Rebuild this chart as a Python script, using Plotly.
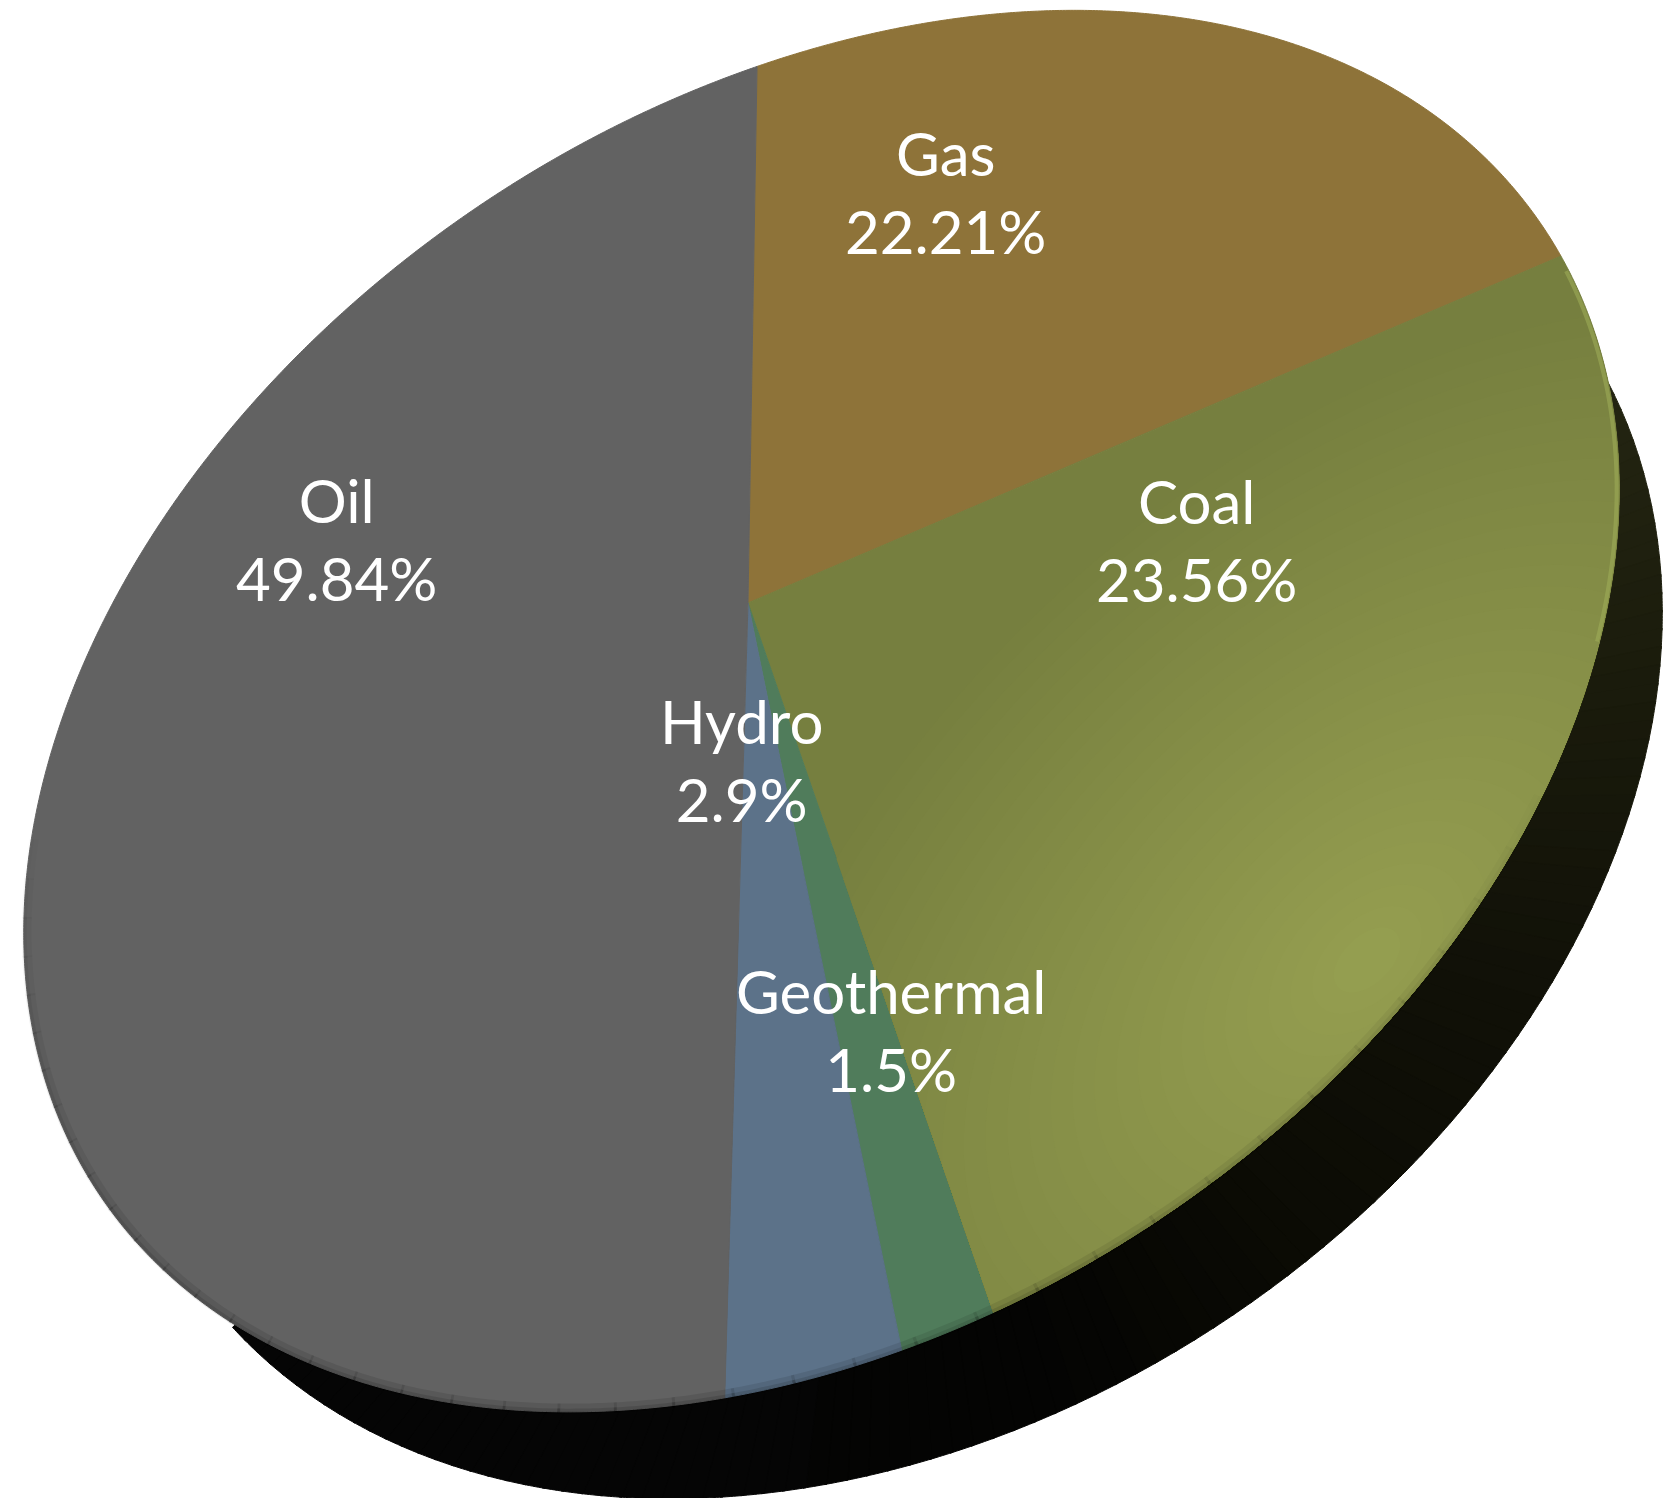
import numpy as np
import plotly.graph_objects as go

# ---- data ----
labels = ["Gas", "Coal", "Geothermal", "Hydro", "Oil"]
shares = [22.21, 23.56, 1.5, 2.9, 49.84]
colors = ["#8e7339", "#767f3f", "#507c5b", "#5c7289", "#626262"]

# ---- label placement (pixels on the canvas) ----
label_x = [945, 1196, 891, 741, 336]
label_y = [192, 540, 1030, 760, 539]

# ---- calibration of the perspective view of the disc ----
W_PX, H_PX = 1671, 1498
RIM_SAMPLES = [(40, 800), (100, 633), (200, 467), (357, 300), (600, 133), (757, 66), (1100, 10),
               (1477, 150), (1563, 263), (1613, 417), (1560, 750), (1483, 907), (1433, 967),
               (1317, 1100), (1150, 1222), (1100, 1260), (998, 1307), (908, 1345), (733, 1395),
               (600, 1412), (500, 1408), (433, 1400), (333, 1373), (233, 1327), (133, 1237),
               (67, 1143), (28, 1000), (24, 932)]
SIDE_SAMPLES = [(233, 1330), (333, 1407), (417, 1453), (500, 1480), (723, 1497), (900, 1467),
                (1100, 1393), (1322, 1250), (1483, 1083), (1567, 950), (1643, 750), (1668, 664),
                (1632, 450), (1607, 377)]
APEX = (748.0, 603.0)
START = (757.0, 66.0)


def fit_ellipse(samples):
    p = np.array(samples, float)
    m = p.mean(0)
    s = 800.0
    x, y = (p[:, 0] - m[0]) / s, (p[:, 1] - m[1]) / s
    D = np.c_[x * x, x * y, y * y, x, y]
    a, b, c, d, e = np.linalg.lstsq(D, np.ones(len(x)), rcond=None)[0]
    M = np.array([[a, b / 2], [b / 2, c]])
    cen = np.linalg.solve(2 * M, -np.array([d, e]))
    k = 1 + cen @ M @ cen
    Q = M / k
    cov = np.linalg.inv(Q) * s * s
    return np.linalg.cholesky(cov), cen * s + m


A, C = fit_ellipse(RIM_SAMPLES)
Ainv = np.linalg.inv(A)


def to_disc(p):
    u = Ainv @ (np.array(p) - C)
    return complex(u[0], u[1])


def to_img(z):
    z = np.atleast_1d(z)
    pts = A @ np.vstack([z.real, z.imag])
    return pts[0] + C[0], pts[1] + C[1]


q = to_disc(APEX)
# perspective: the hub is seen off-centre, so rim angles go through a disc automorphism
w = q * (1 - np.sqrt(1 - abs(q) ** 2)) / abs(q) ** 2
t0 = to_disc(START)
t0 = t0 / abs(t0)
z0 = (t0 - w) / (1 - np.conj(w) * t0)
phi = np.angle(z0)


def rim_point(frac, inset=1.0):
    z = np.exp(1j * (2 * np.pi * np.asarray(frac) + phi))
    x, y = to_img((z + w) / (1 + np.conj(w) * z))
    return APEX[0] + inset * (x - APEX[0]), APEX[1] + inset * (y - APEX[1])


def clip_convex(poly, clip):
    out = list(poly)
    n = len(clip)
    area = sum(clip[i][0] * clip[(i + 1) % n][1] - clip[(i + 1) % n][0] * clip[i][1] for i in range(n))
    sgn = 1 if area > 0 else -1
    for i in range(n):
        a, b = clip[i], clip[(i + 1) % n]
        side = lambda p: sgn * ((b[0] - a[0]) * (p[1] - a[1]) - (b[1] - a[1]) * (p[0] - a[0]))
        inp, out = out, []
        for j in range(len(inp)):
            p, r = inp[j], inp[(j + 1) % len(inp)]
            sp, sr = side(p), side(r)
            if sp >= 0:
                out.append(p)
            if sp * sr < 0:
                f = sp / (sp - sr)
                out.append((p[0] + f * (r[0] - p[0]), p[1] + f * (r[1] - p[1])))
        if not out:
            break
    return out


fig = go.Figure()


def poly(xs, ys, fill, line=None, lw=1):
    fig.add_trace(go.Scatter(
        x=np.asarray(xs), y=np.asarray(ys), mode="lines", fill="toself", fillcolor=fill,
        line=dict(color=line or fill, width=lw if line else 0, simplify=False),
        hoverinfo="skip", showlegend=False))


def stroke(xs, ys, col, lw):
    fig.add_trace(go.Scatter(x=xs, y=ys, mode="lines",
                             line=dict(color=col, width=lw, simplify=False),
                             hoverinfo="skip", showlegend=False))


# ---- dark side of the disc, shaded slice by slice ----
As, Cs = fit_ellipse(SIDE_SAMPLES)
Asi = np.linalg.inv(As)
u0 = Asi @ (np.array(SIDE_SAMPLES[-1], float) - Cs)
u1 = Asi @ (np.array(SIDE_SAMPLES[0], float) - Cs)
a_start, a_end = np.arctan2(u0[1], u0[0]), np.arctan2(u1[1], u1[0])
if a_end < a_start:
    a_end += 2 * np.pi
edges = np.linspace(a_start, a_end, 110)
shade_y = [400, 700, 1000, 1250, 1400, 1498]
shade_rgb = [(36, 37, 18), (26, 27, 12), (17, 17, 8), (12, 12, 5), (5, 5, 3), (4, 4, 3)]
for a0, a1 in zip(edges[:-1], edges[1:]):
    ang = np.linspace(a0, a1 + 0.004, 8)
    pts = As @ np.vstack([np.cos(ang), np.sin(ang)])
    xs = np.r_[Cs[0], pts[0] + Cs[0], Cs[0]]
    ys = np.r_[Cs[1], pts[1] + Cs[1], Cs[1]]
    mx, my = pts[0].mean() + Cs[0], pts[1].mean() + Cs[1]
    if mx < 800:
        rgb = (5, 5, 5)
    else:
        rgb = [int(np.interp(my, shade_y, [s[k] for s in shade_rgb])) for k in range(3)]
    col = f"rgb({rgb[0]},{rgb[1]},{rgb[2]})"
    poly(xs, ys, col, col, 1)

# ---- pie wedges ----
fr = np.r_[0, np.cumsum(shares)] / np.sum(shares)
wedge = {}
for i, lab in enumerate(labels):
    f = np.linspace(fr[i], fr[i + 1], max(30, int(1500 * (fr[i + 1] - fr[i]))))
    rx, ry = rim_point(f)
    xs = np.r_[APEX[0], rx, APEX[0]]
    ys = np.r_[APEX[1], ry, APEX[1]]
    wedge[lab] = list(zip(xs[:-1], ys[:-1]))
    poly(xs, ys, colors[i], colors[i], 1)

# ---- soft highlight on the coal wedge: nested opaque tones ----
ang = np.linspace(0, 2 * np.pi, 90, endpoint=False)
e1, e2 = np.array([0.72, -0.69]), np.array([0.69, 0.72])
base_rgb, peak_rgb = np.array([118, 127, 63]), np.array([148, 158, 80])
radii = np.linspace(1.0, 0.05, 30)
for k, r in enumerate(radii):
    a = 800 * r * np.cos(ang)
    b = 480 * r * np.sin(ang)
    bx = 1367 + a * e1[0] + b * e2[0]
    by = 960 + a * e1[1] + b * e2[1]
    cl = clip_convex(list(zip(bx, by)), wedge["Coal"])
    if len(cl) > 2:
        px, py = zip(*cl)
        t = (k + 1) / len(radii)
        c = base_rgb + (peak_rgb - base_rgb) * t
        col = f"rgb({int(c[0])},{int(c[1])},{int(c[2])})"
        poly(list(px) + [px[0]], list(py) + [py[0]], col)

# ---- rim shading: dim lower edge that fades out at both ends, thin lit edge on coal ----
seg = np.linspace(0.34, 0.74, 41)
for s0, s1 in zip(seg[:-1], seg[1:]):
    f = np.linspace(s0, s1 + 0.0005, 14)
    level = np.sin(np.pi * ((s0 + s1) / 2 - 0.34) / 0.40) ** 0.7
    rx, ry = rim_point(f, 0.996)
    stroke(rx, ry, f"rgba(0,0,0,{0.10 * level:.3f})", 10)
    rx, ry = rim_point(f, 0.9985)
    stroke(rx, ry, f"rgba(0,0,0,{0.12 * level:.3f})", 4)
f = np.linspace(fr[1] + 0.004, 0.31, 200)
rx, ry = rim_point(f, 0.997)
stroke(rx, ry, "rgba(160,175,90,0.55)", 4)

# ---- labels ----
for lab, val, x, y in zip(labels, shares, label_x, label_y):
    fig.add_annotation(x=x, y=y, text=f"{lab}<br>{val:g}%", showarrow=False,
                       font=dict(family="Lato", size=60, color="white"), align="center")

fig.update_xaxes(range=[0, W_PX], visible=False, fixedrange=True)
fig.update_yaxes(range=[H_PX, 0], visible=False, fixedrange=True)
fig.update_layout(width=W_PX, height=H_PX, margin=dict(l=0, r=0, t=0, b=0),
                  paper_bgcolor="white", plot_bgcolor="white", showlegend=False)
fig.write_html("out.html", config={"displayModeBar": False},
               post_script="document.body.style.margin='0';")
